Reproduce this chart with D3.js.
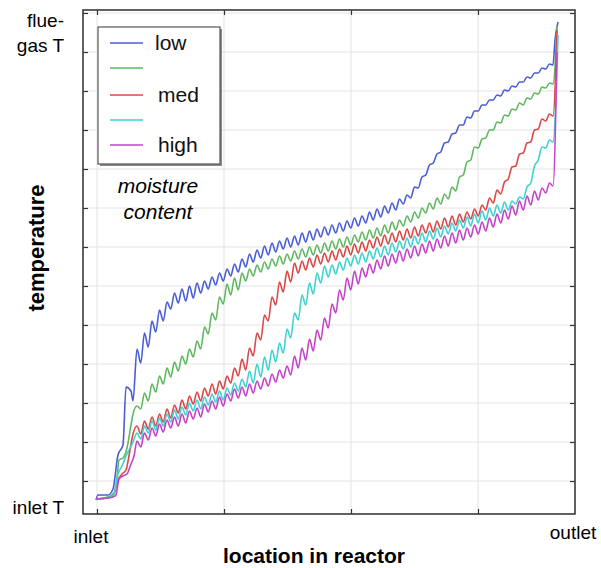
<!DOCTYPE html>
<html><head><meta charset="utf-8">
<script src="https://cdn.jsdelivr.net/npm/d3@7"></script>
<style>body{margin:0;background:#fff} svg{display:block}</style>
</head><body>
<svg id="c" width="601" height="568"></svg>
<script>
// ---- data (x: location units, y: temperature units, arbitrary) ----
const seriesNames = ["low", "", "med", "", "high"];
const seriesColors = ["#4a5fd6", "#5fb85f", "#dc4848", "#3ed2d2", "#c443c8"];
const xTickValues = [14, 141, 268, 395];
const xTickLabels = ["inlet", "", "", "outlet"];
const yTickValues = [33, 72, 111, 150, 189, 228, 267, 306, 345, 384, 423, 462, 501];
const stageStart = 54, stageStep = 3.75;

const lowPrefix = [[13,14],[15,19],[25,19],[30,25],[35,59],[40,69],[43,127],[48,123],[50,113]];
const lowStages = [165,151,181,167,193,182,204,193,212,205,
221,211,225,213,228,216,231,221,233,225,
237,229,241,233,245,238,250,242,255,247,
260,252,264,256,268,259,271,262,273,265,
276,267,278,269,281,272,283,274,285,277,
287,279,289,281,291,283,293,286,296,288,
298,291,302,294,305,297,308,301,311,304,
315,310,319,316,327,326,337,339,349,351,
360,362,371,372,380,381,389,389,397,396,
403,403,409,409,414,414,419,418,424,423,
428,427,432,432,437,436,441,441,446,445,450];
const lowEnd = [[470,449],[472,474],[475,492]];

const medLowPrefix = [[13,15],[25,17],[31,21],[34,36],[36,54],[40,56],[44,66],[48,89],[50,100]];
const medLowStages = [108,105,121,113,130,122,138,130,146,137,
152,143,158,150,165,157,173,165,187,180,
201,194,217,210,230,219,236,224,241,233,
245,238,249,242,252,245,255,248,258,250,
260,253,263,255,265,257,267,259,269,261,
271,263,273,265,275,267,277,269,279,272,
282,274,284,276,286,278,289,281,292,284,
294,288,298,292,302,296,306,301,311,305,
316,310,320,315,327,323,337,339,352,354,
367,366,375,376,384,384,392,391,399,398,
405,404,411,409,416,415,421,420,427,426,431];
const medLowEnd = [[470,430],[474,488]];

const medPrefix = [[13,15],[25,16],[31,20],[35,34],[39,40],[43,44],[47,64],[50,80]];
const medStages = [88,80,93,85,97,88,100,92,105,96,
109,101,114,105,118,110,122,113,126,118,
130,120,133,125,138,131,146,138,155,144,
166,158,181,174,199,193,217,209,232,222,
243,232,251,241,253,244,256,247,259,250,
261,252,263,254,265,257,268,259,270,261,
272,263,274,266,277,268,279,270,281,272,
283,274,285,276,287,278,289,281,291,282,
293,285,296,287,298,289,300,292,302,295,
305,298,309,304,316,311,324,320,332,335,
347,348,360,361,371,372,384,385,395,393,400];
const medEnd = [[470,398],[474,484]];

const medHighPrefix = [[13,15],[25,16],[31,20],[35,40],[39,48],[43,58],[47,66],[50,72]];
const medHighStages = [81,75,88,81,93,84,96,88,100,92,
104,95,107,99,111,103,114,105,117,109,
120,112,123,114,126,119,131,123,135,127,
143,131,150,137,157,144,164,152,171,161,
185,176,201,194,219,209,231,220,241,231,
248,237,249,240,252,244,256,248,259,250,
261,252,263,255,266,257,268,259,271,262,
273,265,276,267,278,270,281,272,283,275,
286,277,288,280,291,283,294,286,297,288,
300,291,303,294,306,298,309,301,312,304,
313,310,317,315,327,331,348,354,367,366,374];
const medHighEnd = [[470,372],[475,479]];

const highPrefix = [[13,15],[25,16],[30,17],[33,19],[36,35],[40,38],[44,40],[48,50],[51,58]];
const highStages = [73,67,81,74,86,78,90,82,94,86,
97,88,100,91,103,95,106,97,110,102,
113,105,117,108,120,113,125,116,127,118,
130,121,133,125,136,128,140,132,144,136,
148,139,158,146,166,154,175,163,184,174,
196,186,210,201,224,214,236,224,243,230,
246,237,250,241,254,245,258,248,260,251,
263,253,265,256,268,258,270,261,273,263,
275,266,278,268,281,271,284,274,286,277,
289,280,292,283,296,287,300,291,304,295,
308,299,313,304,318,309,323,314,326,321,331];
const highEnd = [[470,328],[474,462]];

// ---- build ----
function buildSeries(prefix, stages, end) {
  return prefix.concat(stages.map((v, i) => [stageStart + i * stageStep, v])).concat(end);
}
const series = [
  buildSeries(lowPrefix, lowStages, lowEnd),
  buildSeries(medLowPrefix, medLowStages, medLowEnd),
  buildSeries(medPrefix, medStages, medEnd),
  buildSeries(medHighPrefix, medHighStages, medHighEnd),
  buildSeries(highPrefix, highStages, highEnd)
];

const svg = d3.select("#c");
const L = 83, R = 575, T = 10, B = 514;
const x = d3.scaleLinear().domain([0, 492]).range([L, R]);
const y = d3.scaleLinear().domain([0, 504]).range([B, T]);

// gridlines
const grid = svg.append("g").attr("stroke", "#e3e3e3").attr("stroke-width", 1);
grid.selectAll("line.gx").data(xTickValues).join("line")
  .attr("x1", d => x(d)).attr("x2", d => x(d)).attr("y1", T).attr("y2", B);
grid.selectAll("line.gy").data(yTickValues).join("line")
  .attr("x1", L).attr("x2", R).attr("y1", d => y(d)).attr("y2", d => y(d));

// axes with inward ticks on all four sides
const tk = 5;
svg.append("g").attr("transform", `translate(0,${B})`)
  .call(d3.axisBottom(x).tickValues(xTickValues).tickSizeInner(-tk).tickSizeOuter(0).tickFormat(""));
svg.append("g").attr("transform", `translate(0,${T})`)
  .call(d3.axisTop(x).tickValues(xTickValues).tickSizeInner(-tk).tickSizeOuter(0).tickFormat(""));
svg.append("g").attr("transform", `translate(${L},0)`)
  .call(d3.axisLeft(y).tickValues(yTickValues).tickSizeInner(-tk).tickSizeOuter(0).tickFormat(""));
svg.append("g").attr("transform", `translate(${R},0)`)
  .call(d3.axisRight(y).tickValues(yTickValues).tickSizeInner(-tk).tickSizeOuter(0).tickFormat(""));
svg.selectAll(".domain").remove();
svg.selectAll(".tick line").attr("stroke", "#333").attr("stroke-width", 1.2);

// lines
const line = d3.line().x(d => x(d[0])).y(d => y(d[1])).curve(d3.curveMonotoneX);
svg.append("g").selectAll("path").data(series).join("path")
  .attr("d", line).attr("fill", "none")
  .attr("stroke", (d, i) => seriesColors[i]).attr("stroke-width", 1.6)
  .attr("stroke-linejoin", "round");

// frame
svg.append("rect").attr("x", L).attr("y", T).attr("width", R - L).attr("height", B - T)
  .attr("fill", "none").attr("stroke", "#3a3a3a").attr("stroke-width", 1.6);

// legend
const lg = svg.append("g");
lg.append("rect").attr("x", 100).attr("y", 29).attr("width", 122).attr("height", 137).attr("fill", "#8a8a8a");
lg.append("rect").attr("x", 98).attr("y", 27).attr("width", 122).attr("height", 137)
  .attr("fill", "#fff").attr("stroke", "#555").attr("stroke-width", 1.2);
const legY = [43, 68, 95, 120, 145];
seriesNames.forEach((n, i) => {
  lg.append("line").attr("x1", 110).attr("x2", 143).attr("y1", legY[i]).attr("y2", legY[i])
    .attr("stroke", seriesColors[i]).attr("stroke-width", 1.6);
  if (n) lg.append("text").attr("x", i === 0 ? 155 : 158).attr("y", legY[i] + 7)
    .attr("font-family", "Liberation Sans, Arial, sans-serif").attr("font-size", 21)
    .attr("fill", "#111").text(n);
});

// annotations
const ff = "Liberation Sans, Arial, sans-serif";
svg.append("text").attr("x", 158).attr("y", 193).attr("text-anchor", "middle")
  .attr("font-family", ff).attr("font-size", 21).attr("font-style", "italic").text("moisture");
svg.append("text").attr("x", 158).attr("y", 219).attr("text-anchor", "middle")
  .attr("font-family", ff).attr("font-size", 21).attr("font-style", "italic").text("content");

svg.append("text").attr("x", 64).attr("y", 27).attr("text-anchor", "end")
  .attr("font-family", ff).attr("font-size", 19).text("flue-");
svg.append("text").attr("x", 64).attr("y", 52).attr("text-anchor", "end")
  .attr("font-family", ff).attr("font-size", 19).text("gas T");
svg.append("text").attr("x", 64).attr("y", 514).attr("text-anchor", "end")
  .attr("font-family", ff).attr("font-size", 19).text("inlet T");

svg.append("text").attr("x", x(xTickValues[0]) - 6).attr("y", 543).attr("text-anchor", "middle")
  .attr("font-family", ff).attr("font-size", 19).text(xTickLabels[0]);
svg.append("text").attr("x", 573).attr("y", 539).attr("text-anchor", "middle")
  .attr("font-family", ff).attr("font-size", 19).text(xTickLabels[3]);

svg.append("text").attr("x", 314).attr("y", 563).attr("text-anchor", "middle")
  .attr("font-family", ff).attr("font-size", 21).attr("font-weight", "bold").text("location in reactor");
svg.append("text").attr("transform", "translate(44,248) rotate(-90)").attr("text-anchor", "middle")
  .attr("font-family", ff).attr("font-size", 22).attr("font-weight", "bold").text("temperature");
</script>
</body></html>
